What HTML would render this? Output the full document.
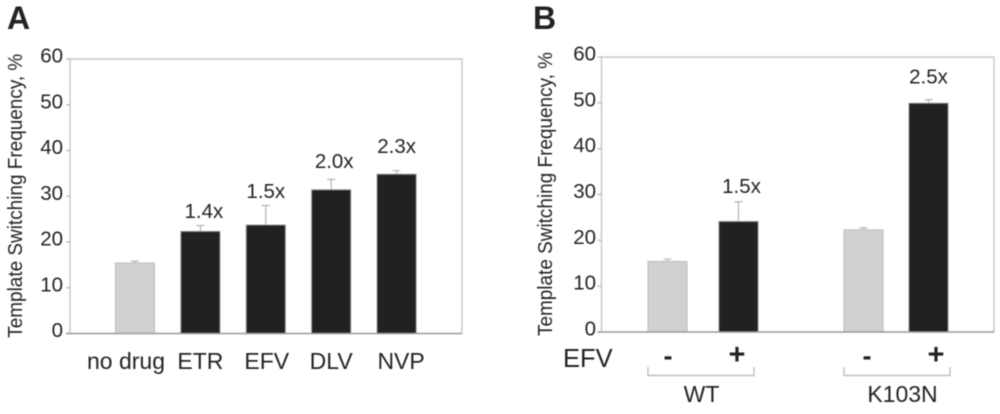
<!DOCTYPE html>
<html>
<head>
<meta charset="utf-8">
<title>Template Switching Frequency</title>
<style>
html,body{margin:0;padding:0;background:#fff;width:1000px;height:414px;overflow:hidden}
svg{display:block;filter:blur(0.45px)}
text{font-family:"Liberation Sans",sans-serif;fill:#232323}
</style>
</head>
<body>
<svg id="fig" width="1000" height="414" viewBox="0 0 1000 414" xmlns="http://www.w3.org/2000/svg"></svg>
<script>
const tickValues = [0, 10, 20, 30, 40, 50, 60];
const tickLabels = ["0", "10", "20", "30", "40", "50", "60"];

const categoriesA = ["no drug", "ETR", "EFV", "DLV", "NVP"];
const valuesA = [15.4, 22.3, 23.7, 31.4, 34.8];
const errorTopsA = [15.8, 23.6, 28.0, 33.7, 35.6];
const foldLabelsA = ["", "1.4x", "1.5x", "2.0x", "2.3x"];
const foldLevelsA = [0, 25.2, 29.6, 36.2, 39.5];

const conditionsB = ["-", "+", "-", "+"];
const groupsB = ["WT", "WT", "K103N", "K103N"];
const valuesB = [15.4, 24.1, 22.3, 49.9];
const errorTopsB = [15.9, 28.4, 22.7, 50.7];
const foldLabelsB = ["", "1.5x", "", "2.5x"];
const foldLevelsB = [0, 30.3, 0, 54.2];

const svg = document.getElementById('fig');
const NS = 'http://www.w3.org/2000/svg';
function mk(tag, attrs, txt) {
  const e = document.createElementNS(NS, tag);
  for (const k in attrs) e.setAttribute(k, attrs[k]);
  if (txt !== undefined) e.textContent = txt;
  svg.appendChild(e);
  return e;
}
const yA = v => 333.5 - v * 4.575;
const yB = v => 332 - v * 4.583;
const xA = i => 135 + i * 65.4;
const xB = i => (i === 0 ? 667.5 : i === 1 ? 738.5 : i === 2 ? 863.5 : 928.5);
const BAR_W = 39;

function drawFrame(name, left, right, y, titleX, tickRight) {
  const top = y(60), bottom = y(0);
  const frame = mk('path', {d: `M${left} ${bottom}V${top}H${right}V${bottom}`, fill: 'none', stroke: '#c6c6c6', 'stroke-width': 1.4});
  
  
  tickValues.forEach((v, i) => {
    const t = mk('line', {x1: left - 4, x2: left, y1: y(v), y2: y(v), stroke: '#b5b5b5', 'stroke-width': 1.2});
    
    
    const l = mk('text', {x: tickRight, y: y(v) + 3.5, 'text-anchor': 'end', 'font-size': 20.5}, tickLabels[i]);
    
    
  });
  const yt = mk('text', {transform: `translate(${titleX},${(top + bottom) / 2 - 0.5}) rotate(-90) scale(0.925,1)`, 'text-anchor': 'middle', 'font-size': 20.5}, 'Template Switching Frequency, %');
  
  
}
function drawBar(name, cx, value, errTop, y, dark) {
  const err = mk('path', {d: `M${cx} ${y(value)}V${y(errTop)}M${cx - 4} ${y(errTop)}H${cx + 4}`, stroke: '#aeaeae', 'stroke-width': 1.1, fill: 'none'});
  
  
  const r = mk('rect', {x: cx - BAR_W / 2, y: y(value), width: BAR_W, height: y(0) - y(value), fill: dark ? '#212121' : '#d0d1d3', stroke: dark ? '#8a8a8a' : '#bcbcbc', 'stroke-width': 1});
  
  
}
function drawBase(name, left, right, y) {
  const b = mk('line', {x1: left - 4, x2: right, y1: y(0), y2: y(0), stroke: '#9a9a9a', 'stroke-width': 1.5});
  
  
}

/* Panel A */
const letterA = mk('text', {x: 7, y: 29, 'font-size': 32, 'font-weight': 'bold'}, 'A');


drawFrame('panel-a', 70, 462, yA, 22, 63);
categoriesA.forEach((c, i) => {
  drawBar('panel-a-bar-' + c.replace(' ', '-').toLowerCase(), xA(i), valuesA[i], errorTopsA[i], yA, i > 0);
  const nudge = i === 0 ? -9 : i === 4 ? 4.5 : i === 2 ? 1 : 0;
  const l = mk('text', {x: xA(i) + nudge, y: 369, 'text-anchor': 'middle', 'font-size': 23}, c);
  
  
  if (foldLabelsA[i]) {
    const f = mk('text', {x: xA(i) + (i === 1 ? 3.5 : i === 3 ? 3 : 0), y: yA(foldLevelsA[i]), 'text-anchor': 'middle', 'font-size': 20.5}, foldLabelsA[i]);
    
    
  }
});
drawBase('panel-a', 70, 462, yA);

/* Panel B */
const letterB = mk('text', {x: 533, y: 29, 'font-size': 32, 'font-weight': 'bold'}, 'B');


drawFrame('panel-b', 601.5, 994, yB, 552, 596);
conditionsB.forEach((c, i) => {
  drawBar('panel-b-bar-' + groupsB[i].toLowerCase() + (c === '+' ? '-plus' : '-minus'), xB(i), valuesB[i], errorTopsB[i], yB, c === '+');
  const isPlus = c === '+';
  const signNudge = i === 0 ? 0.5 : i === 1 ? -1.5 : i === 2 ? 3.5 : 7.5;
  const s = mk('text', {x: xB(i) + signNudge, y: isPlus ? 364 : 365, 'text-anchor': 'middle', 'font-size': isPlus ? 29 : 27, 'font-weight': 'bold'}, c);
  
  
  if (foldLabelsB[i]) {
    const f = mk('text', {x: xB(i) + (i === 1 ? 3 : 0), y: yB(foldLevelsB[i]), 'text-anchor': 'middle', 'font-size': 20.5}, foldLabelsB[i]);
    
    
  }
});
drawBase('panel-b', 601.5, 994, yB);

const efv = mk('text', {x: 563, y: 367, 'font-size': 25.5}, 'EFV');



function drawGroup(label, first, last, cx) {
  const br = mk('path', {d: `M${first} 367V375.5H${last}V367`, fill: 'none', stroke: '#b5b5b5', 'stroke-width': 1.2});
  
  
  const t = mk('text', {x: cx, y: 402, 'text-anchor': 'middle', 'font-size': 23}, label);
  
  
}
drawGroup('WT', 648, 754, 701.5);
drawGroup('K103N', 844, 950, 902.5);
</script>
</body>
</html>
